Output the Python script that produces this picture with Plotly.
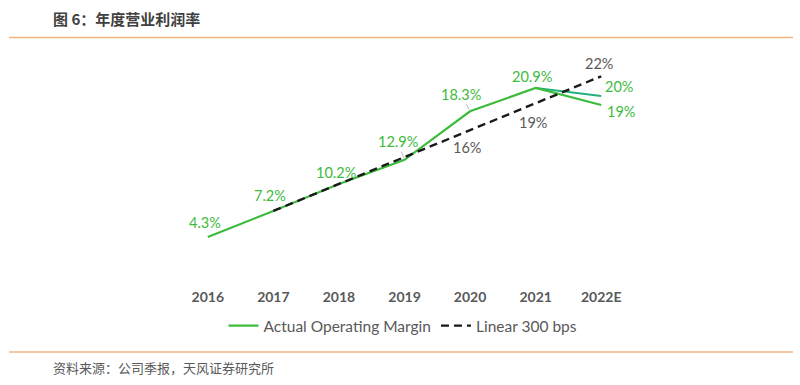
import plotly.graph_objects as go

# ---------------- data ----------------
years = ["2016", "2017", "2018", "2019", "2020", "2021", "2022E"]
actual = [4.3, 7.2, 10.2, 12.9, 18.3, 20.9, 19.0]
actual_labels = ["4.3%", "7.2%", "10.2%", "12.9%", "18.3%", "20.9%", "19%"]
alt_2022 = [20.9, 20.0]          # 2021 -> 2022E alternative estimate
alt_label = "20%"
linear = [None, 7.2, 10.2, 13.2, 16.2, 19.2, 22.2]
linear_labels = [None, None, None, None, "16%", "19%", "22%"]

title_text = "图 6：年度营业利润率"
source_text = "资料来源：公司季报，天风证券研究所"

# ---------------- layout geometry ----------------
W, H = 800, 385
ML, MR, MT, MB = 175, 166, 40, 100
PW, PH = W - ML - MR, H - MT - MB

def px(xp):
    return (xp - ML) / PW

def py(yp):
    return (H - MB - yp) / PH

GREEN = "#3dbb3d"
TEAL = "#22b07c"
GRAY = "#595959"
ORANGE = "#f6b27f"
FONT = "Lato, 'Noto Sans CJK SC', sans-serif"
LS = 14.5

xs = list(range(len(years)))

fig = go.Figure()
fig.add_trace(go.Scatter(
    x=xs[5:7], y=alt_2022, mode="lines",
    line=dict(color=TEAL, width=2), showlegend=False, hoverinfo="skip"))
fig.add_trace(go.Scatter(
    x=xs, y=actual, mode="lines", name="Actual Operating Margin",
    line=dict(color=GREEN, width=2.2)))
fig.add_trace(go.Scatter(
    x=xs, y=linear, mode="lines", name="Linear 300 bps",
    line=dict(color="#1a1a1a", width=2.4, dash="8px,5px")))

annotations = []
act_shift = [(-3, 14), (-3, 15), (-3, 12), None, None, (-4, 11), (20, -6)]
act_arrow = [None, None, None, (-7, -18), (-9, -17), None, None]
for i, (v, t) in enumerate(zip(actual, actual_labels)):
    if act_arrow[i] is not None:
        ax, ay = act_arrow[i]
        annotations.append(dict(x=xs[i], y=v, xref="x", yref="y", text=t,
                                showarrow=True, ax=ax, ay=ay, arrowhead=0,
                                arrowwidth=0.8, arrowcolor="#a6a6a6", standoff=2,
                                font=dict(family=FONT, size=LS, color=GREEN)))
    else:
        dx, dy = act_shift[i]
        annotations.append(dict(x=xs[i], y=v, xref="x", yref="y", text=t,
                                showarrow=False, xshift=dx, yshift=dy,
                                font=dict(family=FONT, size=LS, color=GREEN)))
annotations.append(dict(x=xs[6], y=alt_2022[1], xref="x", yref="y", text=alt_label,
                        showarrow=False, xshift=18, yshift=10,
                        font=dict(family=FONT, size=LS, color=GREEN)))
lin_shift = [None, None, None, None, (-3, -17), (-3, -19), (-2, 13)]
for i, (v, t) in enumerate(zip(linear, linear_labels)):
    if t is None:
        continue
    dx, dy = lin_shift[i]
    annotations.append(dict(x=xs[i], y=v, xref="x", yref="y", text=t,
                            showarrow=False, xshift=dx, yshift=dy,
                            font=dict(family=FONT, size=LS, color=GRAY)))

annotations.append(dict(x=px(51), y=py(18), xref="paper", yref="paper",
                        text="<b>" + title_text + "</b>", showarrow=False,
                        xanchor="left", yanchor="middle",
                        font=dict(family="'Noto Sans CJK SC', sans-serif", size=15, color="#404040")))
annotations.append(dict(x=px(51), y=py(367), xref="paper", yref="paper",
                        text=source_text, showarrow=False,
                        xanchor="left", yanchor="middle",
                        font=dict(family="'Noto Sans CJK SC', sans-serif", size=13, color=GRAY)))

shapes = [
    dict(type="line", xref="paper", yref="paper", x0=px(9), x1=px(793),
         y0=py(37.5), y1=py(37.5), line=dict(color=ORANGE, width=1.6)),
    dict(type="line", xref="paper", yref="paper", x0=px(9), x1=px(793),
         y0=py(352), y1=py(352), line=dict(color=ORANGE, width=1.6)),
]

fig.update_layout(
    width=W, height=H,
    margin=dict(l=ML, r=MR, t=MT, b=MB, pad=0),
    paper_bgcolor="white", plot_bgcolor="white",
    xaxis=dict(range=[-0.5, 6.5], tickmode="array", tickvals=xs,
               ticktext=["<b>%s</b>" % y for y in years],
               showgrid=False, zeroline=False, showline=False, ticks="",
               ticklabelstandoff=2,
               tickfont=dict(family=FONT, size=14, color=GRAY)),
    yaxis=dict(range=[-1.05, 26.24], visible=False, showgrid=False, zeroline=False),
    legend=dict(orientation="h", x=px(403), y=py(326), xanchor="center", yanchor="middle",
                font=dict(family=FONT, size=15.5, color=GRAY), bgcolor="rgba(0,0,0,0)",
                traceorder="normal"),
    annotations=annotations,
    shapes=shapes,
    showlegend=True,
)

fig.write_html("out.html", config={"displayModeBar": False},
               post_script="document.body.style.margin='0';document.body.style.padding='0';")
